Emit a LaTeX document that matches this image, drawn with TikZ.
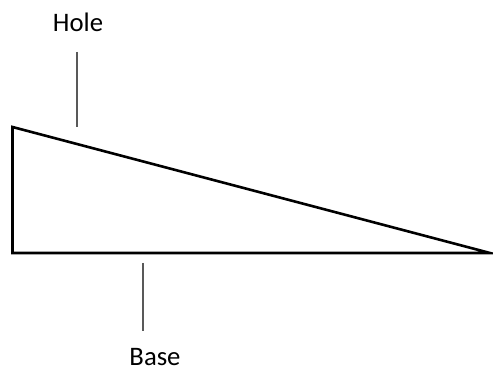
\documentclass[tikz,border=0pt]{standalone}
\usepackage{fontspec}
\setmainfont{Carlito}
\begin{document}
\begin{tikzpicture}[x=1pt,y=-1pt,
  lbl/.style={font=\fontsize{26.7}{30}\selectfont, inner sep=0pt, anchor=base},
  leader/.style={draw=black!65, line width=1.3pt},
  edge/.style={draw=black, line width=2.6pt, line join=miter}]
\useasboundingbox (0,0) rectangle (493,371);
\coordinate (A) at (12.5,127);
\coordinate (B) at (12.5,253);
\coordinate (C) at (490,253);
\draw[edge] (A) -- (B) -- (C) -- cycle;
\node[lbl] (hole) at (78,32) {Hole};
\node[lbl] (base) at (155,366) {Base};
\coordinate (h1) at (77,52);
\coordinate (h2) at (77,127);
\coordinate (b1) at (143,263);
\coordinate (b2) at (143,331);
\draw[leader] (h1) -- (h2);
\draw[leader] (b1) -- (b2);
\end{tikzpicture}
\end{document}
